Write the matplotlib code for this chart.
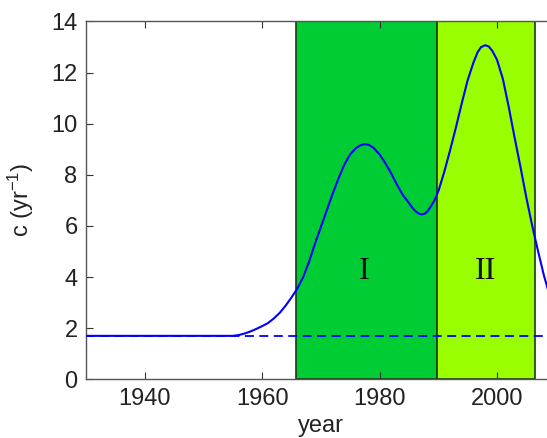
import matplotlib
matplotlib.use("Agg")
import matplotlib.pyplot as plt

# Rate c(t) in yr^-1
years = [1930, 1955, 1956, 1957, 1958, 1959, 1960, 1961, 1962, 1963, 1964, 1965,
         1966, 1967, 1968, 1969, 1970, 1971, 1972, 1973, 1974, 1975, 1976,
         1976.8, 1977.5, 1978.2, 1979, 1980, 1981, 1982, 1983, 1984, 1985,
         1985.6, 1986.2, 1986.7, 1987.2, 1987.7, 1988.2, 1988.7, 1989.3,
         1990, 1991, 1992, 1993, 1994, 1995, 1996, 1996.7, 1997.3, 1998,
         1998.6, 1999.2, 2000, 2001, 2002, 2003, 2004, 2005, 2006, 2007,
         2008, 2009, 2010]
rate = [1.7, 1.7, 1.73, 1.79, 1.87, 1.97, 2.08, 2.2, 2.38, 2.6, 2.88, 3.2,
        3.55, 4.0, 4.6, 5.3, 5.95, 6.6, 7.25, 7.85, 8.4, 8.8, 9.05,
        9.16, 9.2, 9.17, 9.05, 8.8, 8.45, 8.05, 7.6, 7.2, 6.9,
        6.7, 6.56, 6.48, 6.45, 6.48, 6.58, 6.75, 6.98,
        7.35, 8.1, 8.95, 9.85, 10.8, 11.7, 12.4, 12.8, 13.0, 13.07,
        13.02, 12.85, 12.5, 11.75, 10.65, 9.45, 8.3, 7.1, 6.0, 5.0,
        4.05, 3.25, 2.55]
baseline = 1.7

# Shaded periods
periods = [(1965.8, 1989.7, "I", "#00CC33"), (1989.7, 2006.4, "II", "#99FF00")]
label_y = 4.2

xticks = [1940, 1960, 1980, 2000]
yticks = [0, 2, 4, 6, 8, 10, 12, 14]

plt.rcParams["font.family"] = ["Liberation Sans", "DejaVu Sans"]
plt.rcParams["mathtext.default"] = "regular"

fig = plt.figure(figsize=(5.47, 4.38), dpi=100)
ax = fig.add_axes([0.157, 0.134, 0.859, 0.817])

for x0, x1, name, color in periods:
    ax.axvspan(x0, x1, facecolor=color, edgecolor="#1a3a1a", linewidth=1.2, zorder=1)
    ax.text((x0 + x1) / 2 + (0 if name == "II" else -0.3), label_y, name,
            family=["Liberation Serif", "DejaVu Serif"], fontsize=23,
            ha="center", va="center", color="#111111", zorder=3)

ax.axhline(baseline, color="#0000FF", linestyle=(0, (5, 3)), linewidth=1.3, zorder=2)
ax.plot(years, rate, color="#0000FF", linewidth=1.5, zorder=4)

ax.set_xlim(1930, 2010)
ax.set_ylim(0, 14)
ax.set_xticks(xticks)
ax.set_yticks(yticks)
ax.tick_params(direction="in", length=5, width=0.8, color="#333333",
               labelsize=17, top=True, right=True, labelcolor="#222222", pad=6)
for sp in ax.spines.values():
    sp.set_color("#555555")
    sp.set_linewidth(1.0)

ax.set_xlabel("year", fontsize=17, color="#222222", labelpad=4)
ax.set_ylabel("c (yr$^{-1}$)", fontsize=17, color="#222222", labelpad=11)

fig.savefig("out.png", dpi=100)
